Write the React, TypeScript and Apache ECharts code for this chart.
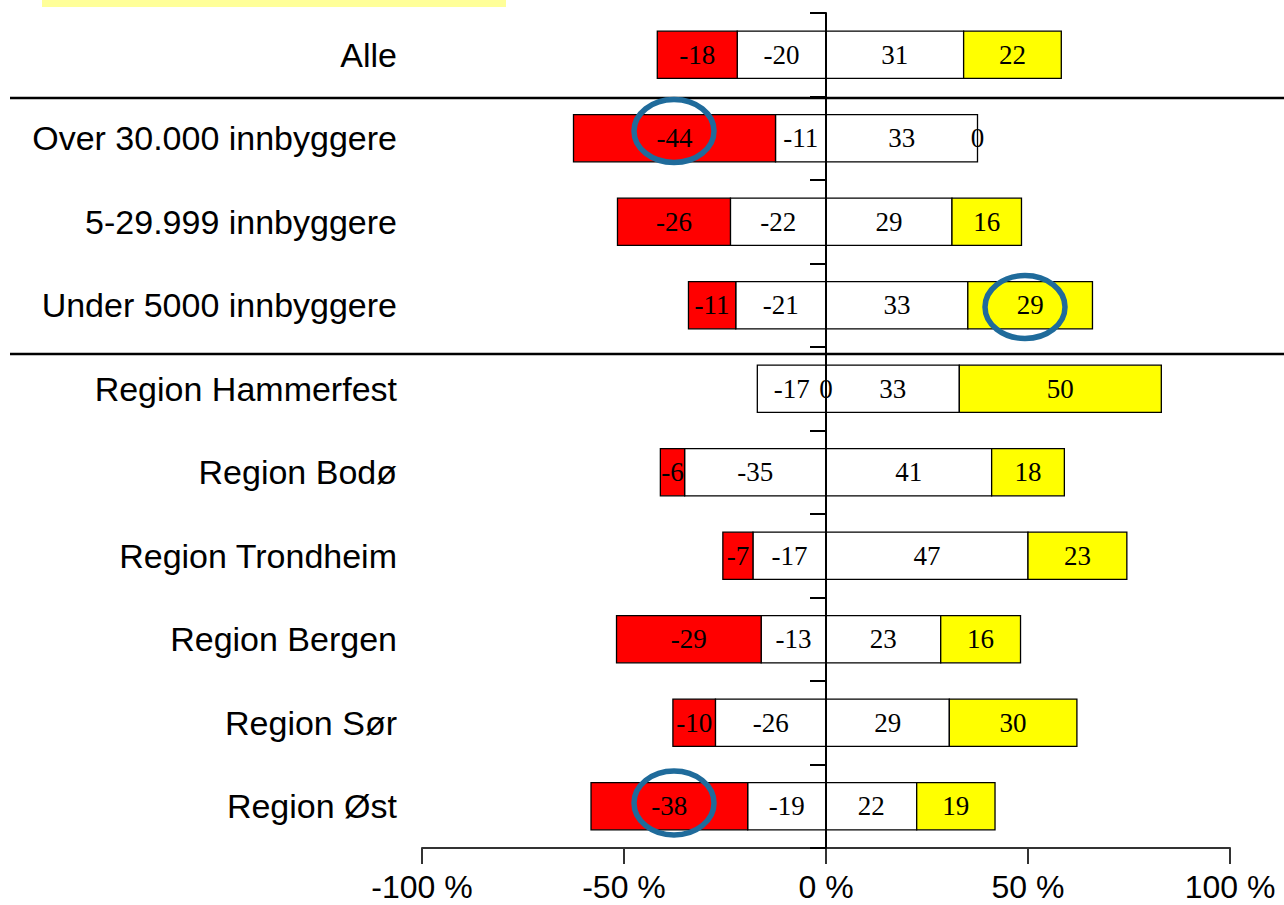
import React, { useEffect, useRef } from 'react';
import * as echarts from 'echarts';

const categories = [
  'Alle',
  'Over 30.000 innbyggere',
  '5-29.999 innbyggere',
  'Under 5000 innbyggere',
  'Region Hammerfest',
  'Region Bodø',
  'Region Trondheim',
  'Region Bergen',
  'Region Sør',
  'Region Øst',
];
// series in stacking order (inner negative first, like the source chart)
const innerNegative = [-20, -11, -22, -21, -17, -35, -17, -13, -26, -19];
const outerNegative = [-18, -44, -26, -11, 0, -6, -7, -29, -10, -38];
const innerPositive = [31, 33, 29, 33, 33, 41, 47, 23, 29, 22];
const outerPositive = [22, 0, 16, 29, 50, 18, 23, 16, 30, 19];
const xTicks = [-100, -50, 0, 50, 100];

const seriesDefs = [
  { name: 'innerNegative', values: innerNegative, color: '#FFFFFF' },
  { name: 'outerNegative', values: outerNegative, color: '#FF0000' },
  { name: 'innerPositive', values: innerPositive, color: '#FFFFFF' },
  { name: 'outerPositive', values: outerPositive, color: '#FFFF00' },
];

function buildSegments() {
  // bars are shown as share of the row total (100 %), labels keep the raw values
  const totals = categories.map((_, i) =>
    seriesDefs.reduce((s, d) => s + Math.abs(d.values[i]), 0)
  );
  const negSum = categories.map(() => 0);
  const posSum = categories.map(() => 0);
  return seriesDefs.map((d) => {
    const data = d.values.map((v, i) => {
      const scaled = (v * 100) / totals[i];
      let start: number;
      let end: number;
      if (v < 0) {
        start = negSum[i];
        end = start + scaled;
        negSum[i] = end;
      } else {
        start = posSum[i];
        end = start + scaled;
        posSum[i] = end;
      }
      return [i, start, end, v];
    });
    return { ...d, data };
  });
}

export default function App() {
  const ref = useRef<HTMLDivElement>(null);

  useEffect(() => {
    if (!ref.current) return;
    const chart = echarts.init(ref.current, undefined, { renderer: 'svg' });
    const segs = buildSegments();

    const series = segs.map((s) => ({
      type: 'custom',
      name: s.name,
      xAxisIndex: 0,
      yAxisIndex: 0,
      encode: { x: [1, 2], y: 0 },
      data: s.data,
      renderItem: (params: any, api: any) => {
        const cat = api.value(0);
        const st = api.value(1);
        const en = api.value(2);
        const raw = api.value(3);
        const p0 = api.coord([st, cat]);
        const p1 = api.coord([en, cat]);
        const band = api.size([0, 1])[1];
        const h = band * 0.565;
        const x = Math.min(p0[0], p1[0]);
        const w = Math.abs(p1[0] - p0[0]);
        const children: any[] = [];
        if (w > 0.01) {
          children.push({
            type: 'rect',
            shape: { x, y: p0[1] - h / 2, width: w, height: h },
            style: { fill: s.color, stroke: '#000000', lineWidth: 1.3 },
          });
        }
        children.push({
          type: 'text',
          z2: 100,
          style: {
            text: String(raw),
            x: (p0[0] + p1[0]) / 2,
            y: p0[1],
            align: 'center',
            verticalAlign: 'middle',
            fontSize: 27,
            fontFamily: 'Liberation Serif',
            fill: '#000000',
          },
        });
        return { type: 'group', children };
      },
    }));

    const option: any = {
      animation: false,
      backgroundColor: '#FFFFFF',
      grid: { left: 422, right: 54, top: 13, bottom: 57, containLabel: false },
      xAxis: {
        type: 'value',
        min: xTicks[0],
        max: xTicks[xTicks.length - 1],
        interval: xTicks[1] - xTicks[0],
        axisLine: { show: true, onZero: false, lineStyle: { color: '#333333', width: 2 } },
        axisTick: { show: true, length: 16, lineStyle: { color: '#333333', width: 2 } },
        splitLine: { show: false },
        axisLabel: {
          formatter: '{value} %',
          fontSize: 32,
          lineHeight: 28,
          fontFamily: 'Liberation Sans',
          color: '#000000',
          margin: 25,
        },
      },
      yAxis: [
        {
          type: 'category',
          data: categories,
          inverse: true,
          axisLine: { show: false, onZero: false },
          axisTick: { show: false },
          splitLine: { show: false },
          axisLabel: {
            fontSize: 34,
            fontFamily: 'Liberation Sans',
            color: '#000000',
            margin: 25,
          },
        },
        {
          type: 'category',
          data: categories,
          inverse: true,
          position: 'left',
          z: 3,
          axisLine: { show: true, onZero: true, lineStyle: { color: '#000000', width: 2 } },
          axisTick: { show: true, length: 16, lineStyle: { color: '#000000', width: 2 } },
          axisLabel: { show: false },
          splitLine: { show: false },
        },
      ],
      graphic: [
        {
          type: 'rect',
          shape: { x: 42, y: 0, width: 464, height: 7 },
          style: { fill: '#FFFF99' },
        },
        {
          type: 'line',
          shape: { x1: 10, y1: 98, x2: 1284, y2: 98 },
          style: { stroke: '#000000', lineWidth: 2.5 },
        },
        {
          type: 'line',
          shape: { x1: 10, y1: 354, x2: 1284, y2: 354 },
          style: { stroke: '#000000', lineWidth: 2.5 },
        },
        {
          type: 'ellipse',
          z: 20,
          shape: { cx: 674, cy: 131, rx: 40, ry: 31.5 },
          style: { fill: 'none', stroke: '#1F6B9B', lineWidth: 5.5 },
        },
        {
          type: 'ellipse',
          z: 20,
          shape: { cx: 1025, cy: 307, rx: 40, ry: 31.5 },
          style: { fill: 'none', stroke: '#1F6B9B', lineWidth: 5.5 },
        },
        {
          type: 'ellipse',
          z: 20,
          shape: { cx: 674, cy: 803, rx: 40, ry: 32 },
          style: { fill: 'none', stroke: '#1F6B9B', lineWidth: 5.5 },
        },
      ],
      series,
    };

    chart.setOption(option);
    return () => {
      chart.dispose();
    };
  }, []);

  return (
    <div
      ref={ref}
      style={{ position: 'absolute', left: 0, top: 0, width: 1284, height: 905, background: '#fff' }}
    />
  );
}
